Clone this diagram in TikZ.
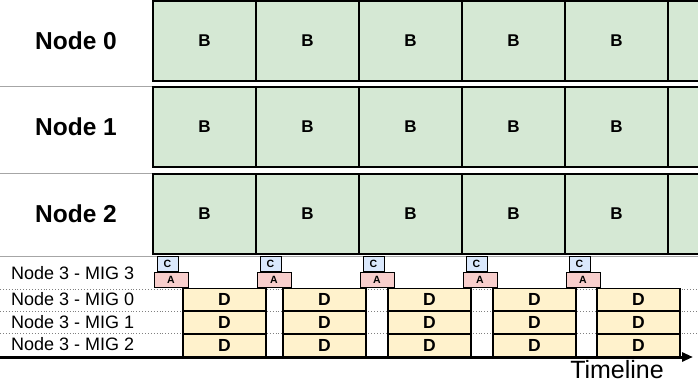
\documentclass[tikz,border=0pt]{standalone}
\usepackage{fontspec}
\setmainfont{Liberation Sans}
\usetikzlibrary{arrows.meta}
\definecolor{bgreen}{HTML}{D5E8D4}
\definecolor{cblue}{HTML}{DAE8FC}
\definecolor{ared}{HTML}{F8CECC}
\definecolor{dyellow}{HTML}{FFF2CC}

\begin{document}
\begin{tikzpicture}[x=1pt,y=-1pt,
  bbox/.style={draw,line width=1.2pt,fill=bgreen,minimum width=103pt,minimum height=80pt,
    inner sep=0pt,font=\bfseries\fontsize{17}{19}\selectfont},
  cbox/.style={draw,line width=1pt,fill=cblue,minimum width=21pt,minimum height=15pt,
    inner sep=0pt,font=\bfseries\fontsize{10.5}{12}\selectfont},
  abox/.style={draw,line width=1pt,fill=ared,minimum width=34pt,minimum height=15pt,
    inner sep=0pt,font=\bfseries\fontsize{10.5}{12}\selectfont},
  dbox/.style={draw,line width=1.4pt,fill=dyellow,minimum width=83pt,minimum height=22pt,
    inner sep=0pt,font=\bfseries\fontsize{17.5}{20}\selectfont},
  migtext/.style={anchor=west,inner sep=0pt,font=\fontsize{18}{20}\selectfont}]
\useasboundingbox (0,0) rectangle (698,382);
\begin{scope}
\clip (0,0) rectangle (698,382);
% row lines
\foreach \y in {86,173,256}
  \draw[gray!70] (0,\y) -- (698,\y);
\foreach \y in {289,311,333}
  \draw[gray,dotted,line width=0.9pt] (0,\y) -- (698,\y);

% full nodes
\foreach \r/\y in {0/41,1/127,2/214}{
  \node[font=\bfseries\fontsize{24.5}{28}\selectfont] (n\r) at (76,\y) {Node \r};
  \foreach \i in {0,...,4}
    \node[bbox] (b\r\i) at (204.5+103*\i,\y) {B};
  % last box runs off the edge
  \node[bbox] (b\r5) at (719.5,\y) {};
}

% MIG rows
\node[migtext] (m3) at (11,273) {Node 3 - MIG 3};
\node[migtext] (m0) at (11,299) {Node 3 - MIG 0};
\node[migtext] (m1) at (11,322) {Node 3 - MIG 1};
\node[migtext] (m2) at (11,344) {Node 3 - MIG 2};

\foreach \i in {0,...,4}{
  \node[cbox] (c\i) at (167.5+103*\i,263.5) {C};
  \node[abox] (a\i) at (171+103*\i,279.5) {A};
}
\foreach \x [count=\i] in {224.5,324.5,429.5,534.5,638.5}
  \foreach \y/\k in {299.5/0,322.5/1,345.5/2}
    \node[dbox] (d\i\k) at (\x,\y) {D};
\end{scope}

% time axis
\coordinate (t0) at (0,357);
\coordinate (t1) at (693,357);
\draw[line width=3pt,-{Triangle[length=11pt,width=9pt]}] (t0) -- (t1);
\node[anchor=base east,inner sep=0pt,font=\fontsize{25}{28}\selectfont] (tl) at (664,378) {Timeline};
\end{tikzpicture}
\end{document}
